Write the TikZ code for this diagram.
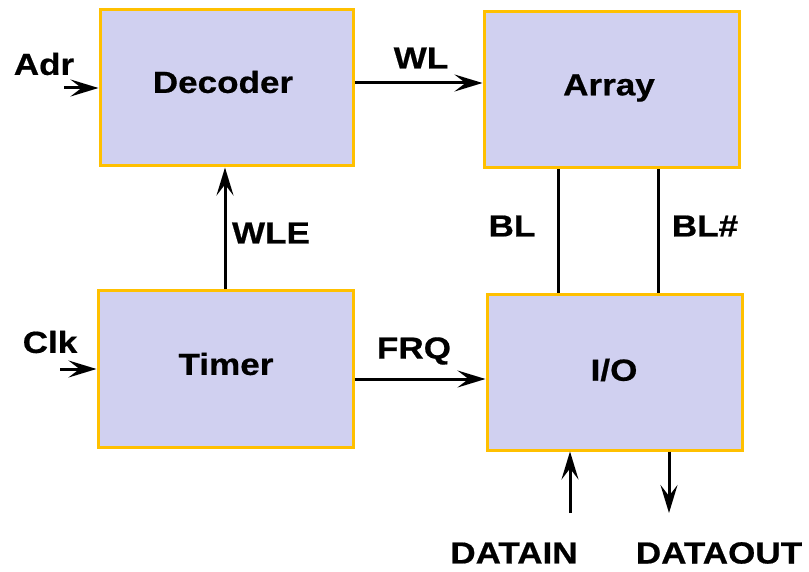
\documentclass[tikz,border=0pt]{standalone}
\usepackage{fontspec}
\setmainfont[FakeStretch=1.15,FakeBold=0.6]{Liberation Sans}
\usetikzlibrary{arrows.meta}
\definecolor{boxfill}{RGB}{208,208,240}
\definecolor{boxline}{RGB}{255,192,0}
\tikzset{
  blk/.style={draw=boxline, fill=boxfill, line width=3pt, minimum width=#1, minimum height=156pt, inner sep=0pt},
  lbl/.style={font=\fontsize{30.5}{35}\selectfont\bfseries, inner sep=0pt, text=black},
  wire/.style={line width=3pt, black},
  arrowline/.style={wire, -{Stealth[length=28pt, width=17pt, inset=11pt]}},
}
\begin{document}
\begin{tikzpicture}[x=1pt,y=-1pt]
\useasboundingbox (0,0) rectangle (809,572);
% boxes
\node[blk=253pt] (dec) at (226.5,88) {};
\node[blk=255pt] (arr) at (611.5,90) {};
\node[blk=255pt] (tim) at (225.5,369) {};
\node[blk=255pt, minimum height=155pt] (io) at (614.5,372.5) {};
% box texts
\node[lbl] (tdec) at (223,82) {Decoder};
\node[lbl] (tarr) at (609,88) {Array};
\node[lbl] (ttim) at (226,364) {Timer};
\node[lbl] (tio) at (614,370) {I/O};
% signal labels
\node[lbl] (adr) at (44,64) {Adr};
\node[lbl] (wl) at (421,58) {WL};
\node[lbl] (wle) at (271,233) {WLE};
\node[lbl] (bl) at (512,226) {BL};
\node[lbl] (blb) at (705,226) {BL\#};
\node[lbl] (clk) at (50,342) {Clk};
\node[lbl] (frq) at (414,351) {FRQ};
\node[lbl] (din) at (514,553) {DATAIN};
\node[lbl] (dout) at (719,553) {DATAOUT};
% free ends
\coordinate (adrS) at (64,88);
\coordinate (clkS) at (60,369);
\coordinate (dinS) at (570,513);
\coordinate (doutE) at (669,513);
% connectors
\draw[arrowline] (adrS) -- (adrS -| dec.west);
\draw[arrowline] (clkS) -- (clkS -| tim.west);
\draw[arrowline] (dec.east |- 0,83) -- (arr.west |- 0,83);
\draw[arrowline] (tim.east |- 0,379) -- (io.west |- 0,379);
\draw[arrowline] (tim.north -| 225,0) -- (dec.south -| 225,0);
\draw[wire] (arr.south -| 558,0) -- (io.north -| 558,0);
\draw[wire] (arr.south -| 658,0) -- (io.north -| 658,0);
\draw[arrowline] (dinS) -- (dinS |- io.south);
\draw[arrowline] (io.south -| doutE) -- (doutE);
\end{tikzpicture}
\end{document}
